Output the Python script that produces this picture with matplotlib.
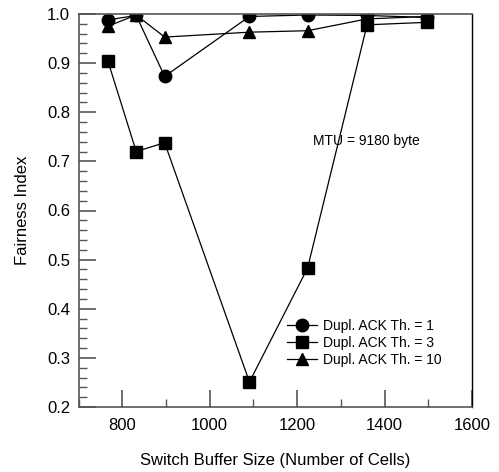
import numpy as np
import matplotlib.pyplot as plt
from matplotlib.ticker import MultipleLocator

plt.rcParams['font.family'] = ['Liberation Sans', 'DejaVu Sans']

buf = [767, 832, 897, 1091, 1224, 1360, 1496]
th1 = [0.988, 0.997, 0.873, 0.995, 0.998, 0.997, 0.993]
th3 = [0.905, 0.720, 0.738, 0.251, 0.483, 0.978, 0.983]
th10 = [0.975, 0.998, 0.953, 0.963, 0.966, 0.990, 0.995]

fig = plt.figure(figsize=(4.99, 4.72), dpi=100)
ax = fig.add_axes([78.5/499, 65/472, 393.5/499, 393/472])

ax.plot(buf, th1, 'k-', marker='o', markersize=9, lw=0.9, label='Dupl. ACK Th. = 1')
ax.plot(buf, th3, 'k-', marker='s', markersize=8, lw=0.9, label='Dupl. ACK Th. = 3')
ax.plot(buf, th10, 'k-', marker='^', markersize=9, lw=0.9, label='Dupl. ACK Th. = 10')

ax.set_xlim(700, 1600)
ax.set_ylim(0.2, 1.0)
ax.xaxis.set_major_locator(MultipleLocator(200))
ax.xaxis.set_minor_locator(MultipleLocator(100))
ax.yaxis.set_major_locator(MultipleLocator(0.1))
ax.yaxis.set_minor_locator(MultipleLocator(0.02))
ax.tick_params(which='both', direction='in', top=False, right=False, labelsize=12, color='#555555')
ax.tick_params(which='major', length=12, width=1.2)
ax.tick_params(which='minor', length=6, width=1.0)
ax.tick_params(axis='x', pad=8)
ax.tick_params(axis='y', pad=6)
for s in ['left', 'bottom', 'top']:
    ax.spines[s].set_color('#555555')
    ax.spines[s].set_linewidth(1.2)
ax.spines['right'].set_linewidth(1.0)

ax.set_xlabel('Switch Buffer Size (Number of Cells)', fontsize=12, labelpad=14)
ax.set_ylabel('Fairness Index', fontsize=12, labelpad=12)

ax.text(1236, 0.742, 'MTU = 9180 byte', fontsize=10, va='center')

ax.legend(loc='center left', bbox_to_anchor=(0.497, 0.163), frameon=False, fontsize=10,
          handlelength=2.2, handletextpad=0.4, labelspacing=0.2)

plt.savefig('out.png', dpi=100)
